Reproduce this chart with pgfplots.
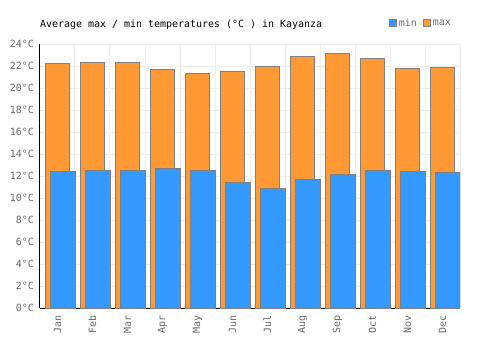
\documentclass[border=0pt]{standalone}
\usepackage{pgfplots}
\pgfplotsset{compat=1.18}
\usepackage{fontspec}
\setmainfont{DejaVu Sans Mono}
\definecolor{maxc}{HTML}{FF9933}
\definecolor{minc}{HTML}{3399FF}
\definecolor{bord}{HTML}{808080}
\definecolor{gridc}{HTML}{EEEEEE}
\definecolor{tickc}{HTML}{666666}
\pgfplotsset{sqlegend/.style={legend image code/.code={\draw[##1, line width=1bp, draw=bord] (0bp,-3.5bp) rectangle (7bp,3.5bp);}}}
\begin{document}
\begin{tikzpicture}
\useasboundingbox (-40bp,-42bp) rectangle (460bp,308bp);
\begin{axis}[
  at={(0,0)}, anchor=south west,
  scale only axis, width=420bp, height=264bp,
  xmin=-0.5, xmax=11.5, ymin=0, ymax=24,
  axis x line*=bottom, axis y line*=left,
  axis line style={-, black, line width=1bp},
  xtick={0,...,11},
  xticklabels={Jan,Feb,Mar,Apr,May,Jun,Jul,Aug,Sep,Oct,Nov,Dec},
  minor xtick={-0.5,0.5,...,11.5},
  xmajorgrids=false, xminorgrids=true, ymajorgrids=true,
  grid style={gridc, line width=1bp},
  minor grid style={gridc, line width=1bp},
  major tick length=0pt, minor tick length=0pt,
  ytick={0,2,...,24},
  yticklabels={0°C,2°C,4°C,6°C,8°C,10°C,12°C,14°C,16°C,18°C,20°C,22°C,24°C},
  tick label style={font=\fontsize{10}{12}\selectfont, text=tickc},
  yticklabel style={anchor=east, inner sep=0pt, xshift=-6bp},
  xticklabel style={rotate=90, anchor=east, inner sep=0pt, xshift=-7bp},
  title={Average max / min temperatures (°C ) in Kayanza},
  title style={at={(0,1)}, anchor=west, yshift=13bp, inner sep=0pt, font=\fontsize{10}{12}\selectfont},
  legend columns=2, reverse legend,
  legend style={at={(1,1)}, anchor=east, xshift=-7bp, yshift=21bp, draw=none, fill=none, inner sep=0pt,
    font=\fontsize{10}{12}\selectfont, text=tickc,
    /tikz/every even column/.append style={column sep=4bp}},
]
\addplot[ybar, bar width=0.68, bar shift=0, fill=maxc, draw=bord, line width=1bp, sqlegend]
  coordinates {(0,22.2) (1,22.3) (2,22.3) (3,21.7) (4,21.3) (5,21.5) (6,22.0) (7,22.9) (8,23.1) (9,22.7) (10,21.8) (11,21.9)};
\addlegendentry{max}
\addplot[ybar, bar width=0.70, bar shift=0.155, fill=minc, draw=bord, line width=1bp, sqlegend]
  coordinates {(0,12.4) (1,12.5) (2,12.5) (3,12.7) (4,12.5) (5,11.4) (6,10.9) (7,11.7) (8,12.1) (9,12.5) (10,12.4) (11,12.3)};
\addlegendentry{min}
\end{axis}
\end{tikzpicture}
\end{document}
